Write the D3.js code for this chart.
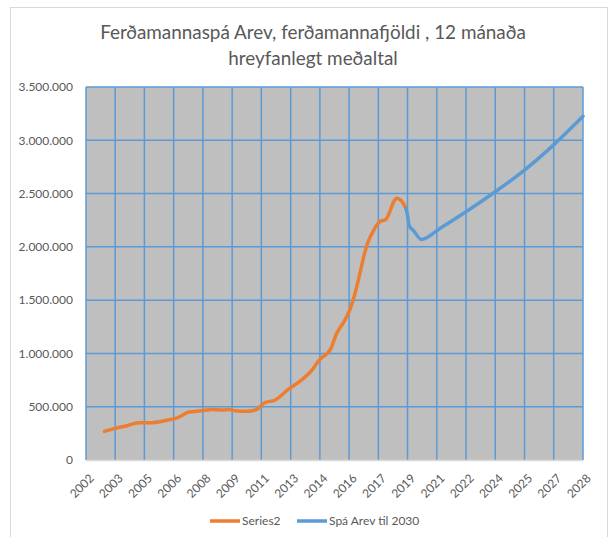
<!DOCTYPE html>
<html>
<head>
<meta charset="utf-8">
<script src="https://cdn.jsdelivr.net/npm/d3@7"></script>
<style>
  body { margin: 0; background: #fff; }
  text { font-family: Lato, "Open Sans", sans-serif; fill: #595959; }
</style>
</head>
<body>
<svg id="chart" width="615" height="537"></svg>
<script>
//============================================================
// Data
//------------------------------------------------------------

var titleLines = ['Ferðamannaspá  Arev, ferðamannafjöldi , 12 mánaða', 'hreyfanlegt meðaltal'];
var seriesNames = ['Series2', 'Spá Arev til 2030'];

// 12 month moving average, actual figures
var actualMonths = ['2003-01', '2003-08', '2004-03', '2004-11', '2005-07', '2006-04', '2007-01', '2007-08',
  '2008-04', '2008-11', '2009-06', '2009-10', '2010-02', '2010-10', '2011-04', '2011-09', '2012-04',
  '2012-12', '2013-09', '2014-03', '2014-09', '2015-04', '2015-08', '2015-12', '2016-04', '2016-07',
  '2016-11', '2017-02', '2017-04', '2017-08', '2017-12', '2018-04', '2018-06', '2018-09', '2018-11',
  '2019-02', '2019-05'];
var actualValues = [268000, 297000, 319000, 350000, 350000, 369000, 400000, 450000,
  462000, 475000, 470000, 475000, 462000, 457000, 475000, 537000, 563000,
  657000, 750000, 828000, 945000, 1040000, 1190000, 1282000, 1391000, 1517000,
  1751000, 1939000, 2033000, 2158000, 2236000, 2258000, 2314000, 2423000, 2455000,
  2432000, 2360000];

// forecast
var forecastMonths = ['2019-05', '2019-06', '2019-07', '2019-10', '2020-03', '2021-03', '2022-08',
  '2024-03', '2025-10', '2027-06', '2028-12'];
var forecastValues = [2360000, 2298000, 2204000, 2150000, 2070000, 2173000, 2329000,
  2517000, 2720000, 2971000, 3225000];

var yTicks = [0, 500000, 1000000, 1500000, 2000000, 2500000, 3000000, 3500000];

//============================================================
// Setup
//------------------------------------------------------------

var margin = {top: 87, right: 32, bottom: 77, left: 86},
    width = 615,
    height = 537,
    availableWidth = width - margin.left - margin.right,
    availableHeight = height - margin.top - margin.bottom;

var parseMonth = d3.timeParse('%Y-%m');
var start = parseMonth('2002-01'),
    end = parseMonth('2028-12');

// excel date axis: a label every 19 months from the start
var xTicks = d3.range(18).map(function(i) { return d3.timeMonth.offset(start, 19 * i); });

var x = d3.scaleTime().domain([start, end]).range([0, availableWidth]);
var y = d3.scaleLinear().domain([0, 3500000]).range([availableHeight, 0]);

var locale = d3.formatLocale({decimal: ',', thousands: '.', grouping: [3], currency: ['', '']});
var fmt = locale.format(',');

var svg = d3.select('#chart');

// chart border
svg.append('rect')
  .attr('x', 10.5).attr('y', 7.5)
  .attr('width', 597).attr('height', 540)
  .attr('fill', '#fff')
  .attr('stroke', '#d9d9d9');

// title
svg.append('g').attr('class', 'title')
  .selectAll('text').data(titleLines).enter().append('text')
  .attr('x', 313)
  .attr('y', function(d, i) { return 39 + i * 26; })
  .attr('text-anchor', 'middle')
  .style('font-size', '18.9px')
  .text(function(d) { return d; });

var wrap = svg.append('g').attr('transform', 'translate(' + margin.left + ',' + margin.top + ')');

wrap.append('rect')
  .attr('width', availableWidth)
  .attr('height', availableHeight)
  .attr('fill', '#bfbfbf');

//------------------------------------------------------------
// Gridlines

wrap.append('g').attr('class', 'grid-y')
  .selectAll('line').data(yTicks.slice(1)).enter().append('line')
  .attr('x1', 0).attr('x2', availableWidth)
  .attr('y1', function(d) { return y(d); })
  .attr('y2', function(d) { return y(d); })
  .attr('stroke', '#5b9bd5')
  .attr('stroke-width', 1.5);

wrap.append('g').attr('class', 'grid-x')
  .selectAll('line').data(xTicks).enter().append('line')
  .attr('x1', function(d) { return x(d); })
  .attr('x2', function(d) { return x(d); })
  .attr('y1', 0).attr('y2', availableHeight)
  .attr('stroke', '#5b9bd5')
  .attr('stroke-width', 1.5);

// category axis line
wrap.append('line')
  .attr('x1', 0).attr('x2', availableWidth)
  .attr('y1', availableHeight + 0.5).attr('y2', availableHeight + 0.5)
  .attr('stroke', '#d9d9d9')
  .attr('stroke-width', 1.5);

//------------------------------------------------------------
// Axes

var yAxis = wrap.append('g').attr('class', 'y-axis')
  .call(d3.axisLeft(y).tickValues(yTicks).tickFormat(fmt).tickSize(0).tickPadding(13));
yAxis.select('.domain').remove();
yAxis.selectAll('text').style('font-size', '12px').style('fill', '#595959');

var xAxis = wrap.append('g').attr('class', 'x-axis')
  .attr('transform', 'translate(0,' + availableHeight + ')')
  .call(d3.axisBottom(x).tickValues(xTicks).tickFormat(d3.timeFormat('%Y')).tickSize(0));
xAxis.select('.domain').remove();
xAxis.selectAll('text')
  .style('font-size', '12px')
  .style('fill', '#595959')
  .attr('text-anchor', 'end')
  .attr('dy', '0.35em')
  .attr('transform', 'translate(3,14) rotate(-45)');

//------------------------------------------------------------
// Lines

var line = d3.line()
  .curve(d3.curveMonotoneX)
  .x(function(d) { return x(d.date); })
  .y(function(d) { return y(d.value); });

function pairs(months, values) {
  return months.map(function(m, i) { return {date: parseMonth(m), value: values[i]}; });
}

var series = [
  {name: seriesNames[0], color: '#ed7d31', values: pairs(actualMonths, actualValues)},
  {name: seriesNames[1], color: '#5b9bd5', values: pairs(forecastMonths, forecastValues)}
];

wrap.append('g').attr('class', 'series')
  .selectAll('path').data(series).enter().append('path')
  .attr('d', function(d) { return line(d.values); })
  .attr('fill', 'none')
  .attr('stroke', function(d) { return d.color; })
  .attr('stroke-width', 3.5)
  .attr('stroke-linejoin', 'round')
  .attr('stroke-linecap', 'round');

//------------------------------------------------------------
// Legend

var legend = svg.append('g').attr('class', 'legend')
  .selectAll('g').data(series).enter().append('g')
  .attr('transform', function(d, i) { return 'translate(' + (210 + i * 87) + ',521)'; });

legend.append('line')
  .attr('x1', 0).attr('x2', 30)
  .attr('stroke', function(d) { return d.color; })
  .attr('stroke-width', 3.5);

legend.append('text')
  .attr('x', 32)
  .attr('dy', '0.35em')
  .style('font-size', '12px')
  .text(function(d) { return d.name; });
</script>
</body>
</html>
